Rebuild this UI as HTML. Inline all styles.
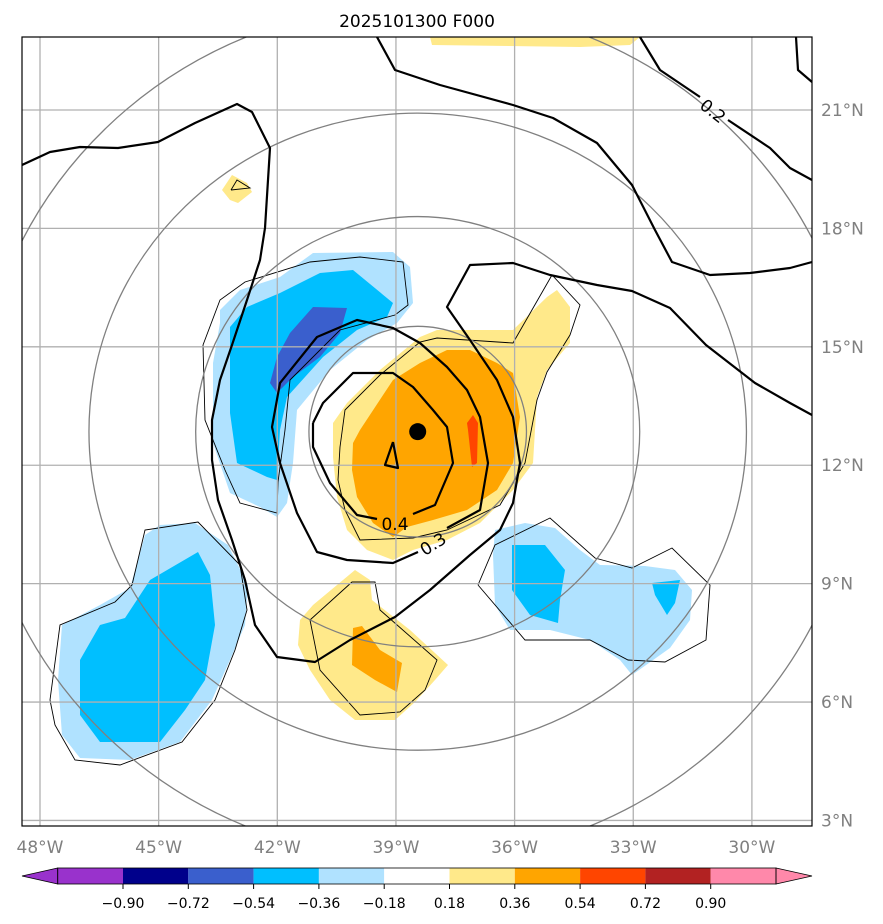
<!DOCTYPE html>
<html><head><meta charset="utf-8"><style>
body{margin:0;background:#fff;font-family:"DejaVu Sans","Liberation Sans",sans-serif}
svg{display:block}
</style></head><body>
<svg id="fig" width="883" height="924" viewBox="0 0 883 924" xmlns="http://www.w3.org/2000/svg" font-family="DejaVu Sans, Liberation Sans, sans-serif">
<defs><clipPath id="clip"><rect x="22" y="37" width="790" height="789"/></clipPath></defs>
<text x="417" y="27" text-anchor="middle" font-size="17" fill="#000">2025101300 F000</text>
<g id="map" clip-path="url(#clip)"></g>
<rect x="22" y="37" width="790" height="789" fill="none" stroke="#000" stroke-width="1.2"/>
<g id="axes"></g>
<g id="cbar"></g>
</svg>
<script>
const lonTicks=[-48,-45,-42,-39,-36,-33,-30];
const lonLabels=["48°W","45°W","42°W","39°W","36°W","33°W","30°W"];
const latTicks=[21,18,15,12,9,6,3];
const latLabels=["21°N","18°N","15°N","12°N","9°N","6°N","3°N"];
const cbBounds=[-0.90,-0.72,-0.54,-0.36,-0.18,0.18,0.36,0.54,0.72,0.90];
const cbLabels=["−0.90","−0.72","−0.54","−0.36","−0.18","0.18","0.36","0.54","0.72","0.90"];
const cbColors=["#9932cc","#00008b","#3a5fcd","#00bfff","#b0e2ff","#ffffff","#ffe98a","#ffa500","#ff4500","#b22222","#ff88aa"];
const center=[-38.45,12.85];
const ringRadii=[2.67,5.45,8.07,10.85];

const X=lon=>40+(lon+48)*39.55;
const Y=lat=>110+(21-lat)*39.47;
const NS="http://www.w3.org/2000/svg";
const map=document.getElementById('map'),axes=document.getElementById('axes'),cb=document.getElementById('cbar');
function mk(tag,attrs,parent){const e=document.createElementNS(NS,tag);for(const k in attrs)e.setAttribute(k,attrs[k]);parent.appendChild(e);return e;}
const pts=a=>a.map(p=>p.join(',')).join(' ');

const fills=[
 ["light-blue-nw","#b0e2ff",[[220,310],[240,290],[280,277],[313,253],[393,252],[410,267],[413,303],[397,323],[367,340],[330,370],[297,410],[293,463],[287,503],[277,517],[260,507],[230,493],[213,443],[213,363],[220,323]]],
 ["sky-blue-nw","#00bfff",[[230,327],[247,307],[280,293],[320,273],[353,270],[393,303],[387,317],[357,330],[323,357],[287,397],[280,430],[277,480],[267,477],[237,463],[230,413]]],
 ["royal-blue-nw","#3a5fcd",[[313,307],[347,308],[340,333],[320,357],[293,377],[277,393],[270,383],[277,357],[290,333]]],
 ["yellow-center","#ffe98a",[[333,423],[347,403],[380,370],[420,337],[437,330],[513,330],[547,297],[557,290],[570,307],[570,343],[547,370],[537,397],[533,463],[513,490],[480,523],[447,540],[413,550],[393,560],[367,550],[347,530],[337,497],[333,457]]],
 ["orange-center","#ffa500",[[353,443],[360,430],[393,380],[420,363],[447,350],[470,350],[497,363],[513,373],[520,417],[513,463],[497,490],[467,510],[433,520],[407,527],[393,537],[373,523],[357,497],[352,470]]],
 ["red-center","#ff4500",[[467,423],[473,415],[478,423],[477,463],[472,467],[468,430]]],
 ["yellow-nw-small","#ffe98a",[[222,190],[232,175],[247,183],[252,192],[238,203],[230,200]]],
 ["yellow-top","#ffe98a",[[430,37],[640,37],[630,45],[580,47],[432,45]]],
 ["light-blue-sw","#b0e2ff",[[62,625],[100,605],[130,588],[145,535],[160,525],[195,523],[228,545],[248,585],[245,625],[230,660],[212,700],[180,742],[130,760],[80,758],[62,735],[58,680]]],
 ["sky-blue-sw","#00bfff",[[80,660],[100,625],[125,618],[150,580],[198,552],[210,575],[215,625],[205,680],[185,710],[160,742],[100,742],[80,715]]],
 ["yellow-south","#ffe98a",[[300,620],[313,605],[355,570],[370,580],[372,600],[410,630],[448,665],[435,680],[415,702],[395,720],[355,720],[330,700],[310,670],[298,645]]],
 ["orange-south","#ffa500",[[353,628],[362,626],[380,650],[402,663],[397,692],[375,680],[352,665]]],
 ["light-blue-se","#b0e2ff",[[495,530],[525,523],[555,528],[580,550],[600,565],[645,566],[675,570],[692,590],[690,620],[670,648],[632,675],[620,660],[590,640],[550,630],[510,630],[495,605],[493,555]]],
 ["sky-blue-se","#00bfff",[[512,545],[545,545],[565,570],[560,600],[558,623],[530,615],[512,590]]],
 ["sky-blue-se-small","#00bfff",[[652,583],[680,580],[675,603],[667,615],[655,595]]]
];
fills.forEach(f=>{const e=mk('polygon',{points:pts(f[2]),fill:f[1],stroke:'none'},map);

});

const thin=[
 [[203,345],[220,300],[245,282],[310,262],[360,257],[403,262],[408,305],[395,315],[340,330],[290,380],[285,430],[278,482],[277,513],[240,503],[225,470],[205,420],[203,345]],
 [[340,447],[345,410],[380,375],[420,342],[437,338],[513,343],[552,275],[580,305],[570,335],[547,372],[537,400],[525,463],[500,505],[447,530],[413,538],[360,540],[345,510],[338,480],[340,447]],
 [[50,700],[60,625],[115,602],[132,585],[145,530],[198,522],[240,565],[247,610],[235,650],[215,700],[182,742],[120,765],[75,760],[55,725],[50,700]],
 [[478,585],[495,545],[550,518],[595,558],[632,568],[672,548],[710,585],[706,640],[665,662],[628,660],[590,640],[525,640],[478,585]],
 [[310,620],[352,582],[375,582],[380,610],[437,660],[425,690],[400,712],[360,715],[320,670],[310,620]],
 [[231,190],[237,180],[250,188],[231,190]]
];
thin.forEach(t=>{const e=mk('polyline',{points:pts(t),fill:'none',stroke:'#000','stroke-width':0.9},map);

});

lonTicks.forEach(l=>{const e=mk('line',{x1:X(l),x2:X(l),y1:37,y2:826,stroke:'#b0b0b0','stroke-width':1.3},map);

});
latTicks.forEach(l=>{const e=mk('line',{x1:22,x2:812,y1:Y(l),y2:Y(l),stroke:'#b0b0b0','stroke-width':1.3},map);

});

ringRadii.forEach(r=>{const e=mk('ellipse',{cx:X(center[0]),cy:Y(center[1]),rx:r*39.55*1.03,ry:r*39.47,fill:'none',stroke:'#808080','stroke-width':1.3},map);

});

const thick=[
 [[313,423],[323,403],[353,373],[393,373],[413,387],[433,410],[447,427],[453,463],[435,505],[413,514]],
 [[377,519],[357,515],[330,483],[313,447],[313,423]],
 [[393,442],[398,468],[385,465],[393,442]],
 [[447,528],[480,510],[488,463],[480,417],[467,390],[447,367],[420,343],[393,328],[357,320],[317,337],[280,383],[272,427],[280,463],[297,513],[317,552],[347,560],[393,563],[418,552]],
 [[22,165],[50,152],[80,147],[118,148],[158,142],[195,123],[237,104],[252,112],[270,148],[265,228],[260,260],[247,300],[232,345],[220,380],[212,420],[212,460],[218,500],[232,540],[245,580],[255,625],[277,657],[315,662],[350,640],[395,617],[430,590],[470,555],[500,530],[513,503],[520,463],[513,417],[497,380],[470,340],[447,307],[470,265],[513,263],[550,275],[597,285],[632,291],[670,308],[706,345],[755,383],[790,403],[812,415]],
 [[377,37],[395,70],[440,85],[513,105],[553,118],[597,143],[632,185],[655,230],[672,262],[710,275],[750,273],[790,268],[812,262]],
 [[640,37],[660,70],[700,97]],
 [[728,120],[770,148],[790,168],[812,180]],
 [[796,37],[798,70],[812,82]]
];
thick.forEach(t=>{const e=mk('polyline',{points:pts(t),fill:'none',stroke:'#000','stroke-width':2.2,'stroke-linejoin':'round'},map);

});

const clabels=[["0.4",395,530,0],["0.3",433,550,-32],["0.2",713,117,38]];
clabels.forEach(c=>{const e=mk('text',{x:c[1],y:c[2],'text-anchor':'middle','font-size':17,fill:'#000',transform:`rotate(${c[3]} ${c[1]} ${c[2]-6})`},map);e.textContent=c[0];

});

const dot=mk('circle',{cx:X(center[0]),cy:Y(center[1]),r:8.5,fill:'#000'},map);



lonTicks.forEach((l,i)=>{const e=mk('text',{x:X(l),y:853,'text-anchor':'middle','font-size':17,fill:'#808080'},axes);e.textContent=lonLabels[i];

});
latTicks.forEach((l,i)=>{const e=mk('text',{x:821,y:Y(l)+6,'font-size':17,fill:'#808080'},axes);e.textContent=latLabels[i];

});

const cbX=i=>123+i*65.3;
const segEdges=[cbX(-1)].concat(cbBounds.map((b,i)=>cbX(i))).concat([cbX(cbBounds.length)]);
for(let i=0;i<cbColors.length;i++){const e=mk('rect',{x:segEdges[i],y:868,width:segEdges[i+1]-segEdges[i],height:16,fill:cbColors[i]},cb);

}
const lt=mk('polygon',{points:`22,876 ${segEdges[0]},868 ${segEdges[0]},884`,fill:cbColors[0],stroke:'#000','stroke-width':0.8},cb);


const last=segEdges[segEdges.length-1];
const rt=mk('polygon',{points:`812,876 ${last},868 ${last},884`,fill:cbColors[cbColors.length-1],stroke:'#000','stroke-width':0.8},cb);


const ob=mk('rect',{x:segEdges[0],y:868,width:last-segEdges[0],height:16,fill:'none',stroke:'#000','stroke-width':0.8},cb);


cbBounds.forEach((b,i)=>{const t=mk('line',{x1:cbX(i),x2:cbX(i),y1:884,y2:889,stroke:'#000'},cb);


const e=mk('text',{x:cbX(i),y:908,'text-anchor':'middle','font-size':14,fill:'#000'},cb);e.textContent=cbLabels[i];

});
</script>
</body></html>
